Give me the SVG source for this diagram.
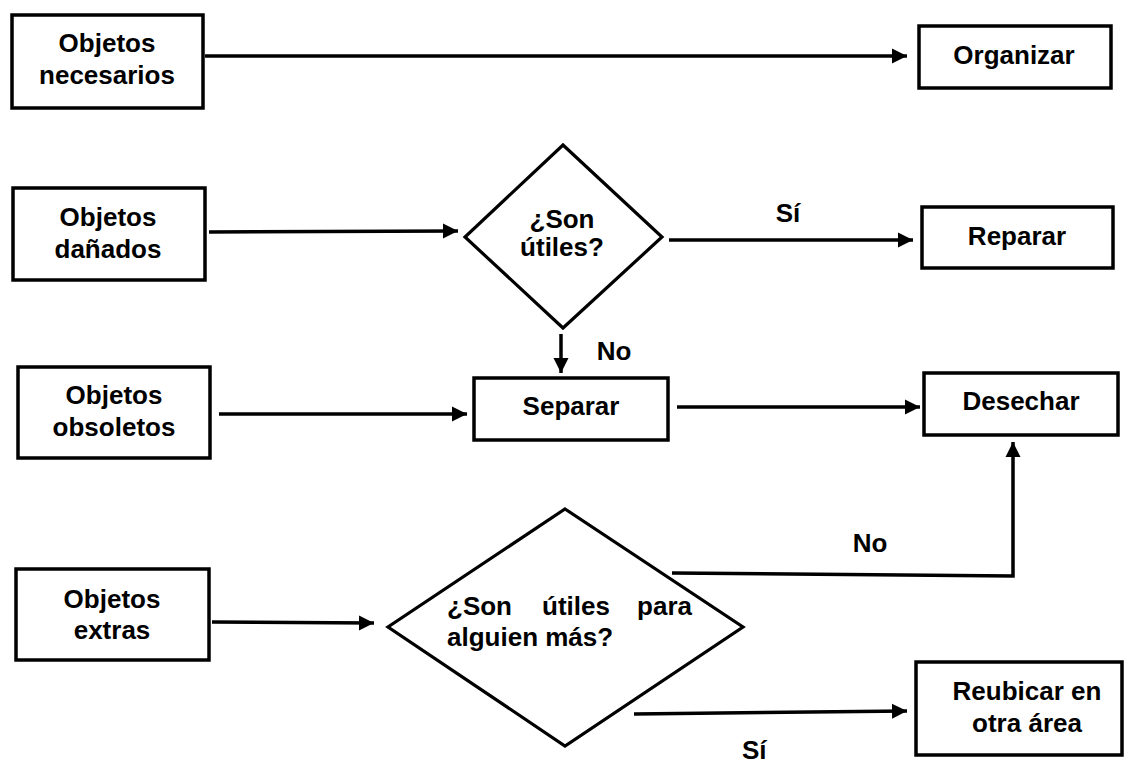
<svg xmlns="http://www.w3.org/2000/svg" width="1130" height="766" viewBox="0 0 1130 766">
<style>
.box{fill:#fff;stroke:#000;stroke-width:3.5}
.dia{fill:#fff;stroke:#000;stroke-width:3.2}
.t{font-family:"Liberation Sans",Arial,sans-serif;font-weight:bold;font-size:26px;fill:#000;text-anchor:middle}
.ts{font-family:"Liberation Sans",Arial,sans-serif;font-weight:bold;font-size:26px;fill:#000}
.ln{fill:none;stroke:#000;stroke-width:3.5}
</style>
<defs>
<marker id="ah" markerUnits="userSpaceOnUse" markerWidth="16" markerHeight="18" viewBox="0 0 16 18" refX="15" refY="9" orient="auto">
<path d="M0,1.5 L15,9 L0,16.5 Z" fill="#000"/>
</marker>
</defs>
<rect width="1130" height="766" fill="#fff"/>
<g id="connectors">
<path class="ln" d="M205,56 L907,56" marker-end="url(#ah)"/>
<path class="ln" d="M209,232 L458,231" marker-end="url(#ah)"/>
<path class="ln" d="M669,240 L913,240" marker-end="url(#ah)"/>
<path class="ln" d="M561,334 L561,373" marker-end="url(#ah)"/>
<path class="ln" d="M219,414 L467,414" marker-end="url(#ah)"/>
<path class="ln" d="M677,407 L920,407" marker-end="url(#ah)"/>
<path class="ln" d="M212,622 L374,623" marker-end="url(#ah)"/>
<path class="ln" d="M672,573 L1013,576 L1013,442" marker-end="url(#ah)"/>
<path class="ln" d="M634,714 L907,711" marker-end="url(#ah)"/>
<text class="t" x="788" y="222">Sí</text>
<text class="t" x="614" y="360">No</text>
<text class="t" x="870" y="552">No</text>
<text class="ts" x="742" y="759">Sí</text>
</g>
<g id="n-necesarios">
<rect class="box" x="12" y="15" width="191" height="93"/>
<text class="t" x="107" y="52">Objetos</text>
<text class="t" x="107" y="84">necesarios</text>
</g>
<g id="n-organizar">
<rect class="box" x="919" y="26" width="192" height="62"/>
<text class="t" x="1014" y="64">Organizar</text>
</g>
<g id="n-danados">
<rect class="box" x="13" y="188" width="192" height="92"/>
<text class="t" x="108" y="226">Objetos</text>
<text class="t" x="108" y="258">dañados</text>
</g>
<g id="n-utiles">
<polygon class="dia" points="563,145 662,237 563,328 465,237"/>
<text class="t" x="562" y="228">¿Son</text>
<text class="t" x="562" y="256">útiles?</text>
</g>
<g id="n-reparar">
<rect class="box" x="922" y="207" width="191" height="61"/>
<text class="t" x="1017" y="245">Reparar</text>
</g>
<g id="n-obsoletos">
<rect class="box" x="18" y="367" width="192" height="91"/>
<text class="t" x="114" y="404">Objetos</text>
<text class="t" x="114" y="436">obsoletos</text>
</g>
<g id="n-separar">
<rect class="box" x="474" y="378" width="194" height="62"/>
<text class="t" x="571" y="415">Separar</text>
</g>
<g id="n-desechar">
<rect class="box" x="924" y="373" width="194" height="62"/>
<text class="t" x="1021" y="410">Desechar</text>
</g>
<g id="n-extras">
<rect class="box" x="16" y="569" width="193" height="91"/>
<text class="t" x="112" y="608">Objetos</text>
<text class="t" x="112" y="639">extras</text>
</g>
<g id="n-alguien">
<polygon class="dia" points="565,509 743,627 565,746 388,627"/>
<text class="ts" x="447" y="615">¿Son</text>
<text class="ts" x="542" y="615">útiles</text>
<text class="ts" x="692" y="615" text-anchor="end">para</text>
<text class="ts" x="447" y="646">alguien más?</text>
</g>
<g id="n-reubicar">
<rect class="box" x="916" y="662" width="206" height="93"/>
<text class="t" x="1027" y="700">Reubicar en</text>
<text class="t" x="1027" y="732">otra área</text>
</g>
</svg>
